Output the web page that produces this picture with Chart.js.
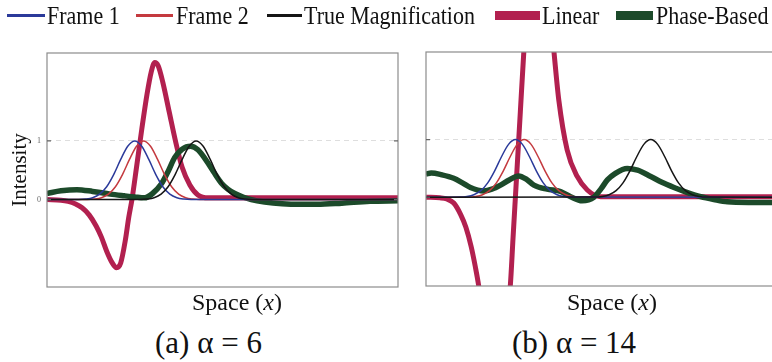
<!DOCTYPE html>
<html>
<head>
<meta charset="utf-8">
<script src="https://cdn.jsdelivr.net/npm/chart.js@4"></script>
<style>
  body { margin: 0; width: 772px; height: 362px; overflow: hidden; background: #fff; position: relative;
         font-family: 'Liberation Serif', 'Times New Roman', serif; color: #111; }
  canvas { position: absolute; top: 0; }
  .ln { position: absolute; top: 14px; height: 3px; }
  .bx { position: absolute; top: 11px; height: 9px; }
  .tx { position: absolute; top: 6px; font-size: 22px; line-height: 22px; white-space: nowrap;
        transform: scaleY(1.12); transform-origin: left bottom; }
  .xt { position: absolute; top: 290px; font-size: 24px; line-height: 24px; white-space: nowrap; }
  .cap { position: absolute; top: 327px; font-size: 31px; line-height: 31px; white-space: nowrap; }
</style>
</head>
<body>
<canvas id="panelA" width="400" height="300" style="left:0"></canvas>
<canvas id="panelB" width="378" height="290" style="left:400px"></canvas>

<div id="legend">
  <span class="ln" style="left:7px;width:38px;background:#2b3a9a"></span><span class="tx" style="left:47px">Frame 1</span>
  <span class="ln" style="left:136px;width:37px;background:#c43a3f"></span><span class="tx" style="left:176px">Frame 2</span>
  <span class="ln" style="left:267px;width:35px;background:#151515"></span><span class="tx" style="left:304px">True Magnification</span>
  <span class="bx" style="left:495px;width:45px;background:#b2204f"></span><span class="tx" style="left:542px">Linear</span>
  <span class="bx" style="left:616px;width:37px;background:#1c4a2a"></span><span class="tx" style="left:656px">Phase-Based</span>
</div>
<div class="xt" style="left:192px">Space (<i>x</i>)</div>
<div class="xt" style="left:567px">Space (<i>x</i>)</div>
<div class="cap" style="left:155px">(a) α = 6</div>
<div class="cap" style="left:512px">(b) α = 14</div>

<script>
const BLUE = '#2b3a9a';
const RED = '#c43a3f';
const BLACK = '#151515';
const CRIMSON = '#b2204f';
const GREEN = '#1c4a2a';
const FONT = "'Liberation Serif', 'Times New Roman', serif";

// panel (a), alpha = 6
const pulseAY = [0, 0.002, 0.01, 0.033, 0.094, 0.22, 0.427, 0.685, 0.91, 1, 0.91, 0.685, 0.427, 0.22, 0.094, 0.033, 0.01, 0.002, 0];
const frame1AX = [0, 9, 11, 13, 15, 17, 19, 21, 23, 25, 27, 29, 31, 33, 35, 37, 39, 41, 100];
const frame2AX = [0, 11.5, 13.5, 15.5, 17.5, 19.5, 21.5, 23.5, 25.5, 27.5, 29.5, 31.5, 33.5, 35.5, 37.5, 39.5, 41.5, 43.5, 100];
const trueAX = [0, 26.5, 28.5, 30.5, 32.5, 34.5, 36.5, 38.5, 40.5, 42.5, 44.5, 46.5, 48.5, 50.5, 52.5, 54.5, 56.5, 58.5, 100];
const linearAX = [0, 4, 6, 8, 10, 12, 14, 15.5, 17, 18.5, 19.8, 21, 22.3, 23.3, 24.2, 25.5, 27, 28.5, 29.7, 30.7, 31.7, 33, 34.8, 36.6, 38.5, 40.7, 43, 46, 100];
const linearAY = [0, -0.01, -0.03, -0.07, -0.14, -0.26, -0.45, -0.64, -0.88, -1.07, -1.16, -1.08, -0.7, -0.3, 0, 0.55, 1.2, 1.8, 2.18, 2.34, 2.28, 2.0, 1.5, 1.0, 0.55, 0.25, 0.08, 0.03, 0.03];
const phaseAX = [0, 4, 8.5, 13, 18, 22, 25, 27.8, 30, 32.6, 34.5, 36.4, 38.5, 40.9, 43, 45.9, 47.5, 49.7, 51.5, 53.5, 56, 58.2, 62, 67, 72, 77, 84, 92, 100];
const phaseAY = [0.105, 0.15, 0.17, 0.14, 0.094, 0.065, 0.045, 0.03, 0.1, 0.27, 0.48, 0.72, 0.86, 0.91, 0.85, 0.62, 0.47, 0.28, 0.18, 0.105, 0.04, 0.0, -0.04, -0.07, -0.08, -0.08, -0.06, -0.03, -0.02];

// panel (b), alpha = 14
const pulseBY = [0, 0.004, 0.014, 0.044, 0.114, 0.249, 0.458, 0.707, 0.917, 1, 0.917, 0.707, 0.458, 0.249, 0.114, 0.044, 0.014, 0.004, 0];
const frame1BX = [0, 9.8, 11.8, 13.8, 15.8, 17.8, 19.8, 21.8, 23.8, 25.8, 27.8, 29.8, 31.8, 33.8, 35.8, 37.8, 39.8, 41.8, 102];
const frame2BX = [0, 12.3, 14.3, 16.3, 18.3, 20.3, 22.3, 24.3, 26.3, 28.3, 30.3, 32.3, 34.3, 36.3, 38.3, 40.3, 42.3, 44.3, 102];
const trueBX = [0, 48.8, 50.8, 52.8, 54.8, 56.8, 58.8, 60.8, 62.8, 64.8, 66.8, 68.8, 70.8, 72.8, 74.8, 76.8, 78.8, 80.8, 102];
const linearBX = [0, 4, 6, 8, 10, 11.5, 13, 14.2, 15.2, 17, 19.5, 22, 24.3, 25.1, 25.9, 27.2, 28.2, 30, 32, 34, 36, 36.9, 38.3, 40.7, 43.6, 46.5, 50.3, 55, 102];
const linearBY = [0, -0.01, -0.03, -0.1, -0.3, -0.52, -0.85, -1.2, -1.54, -2.4, -3.0, -2.6, -1.54, -0.7, 0.13, 1.48, 2.52, 3.9, 4.5, 4.2, 3.1, 2.52, 1.68, 0.82, 0.36, 0.125, 0.01, 0.01, 0.01];
const phaseBX = [0, 1.5, 4.5, 8, 10.5, 12.8, 16.6, 19, 21.5, 24, 26.7, 29, 31.1, 34.9, 38.8, 41.7, 45, 48.4, 50.5, 52.3, 54.5, 58, 61, 64.8, 68, 71.5, 75, 79.2, 83, 86.9, 93, 102];
const phaseBY = [0.40, 0.42, 0.39, 0.33, 0.25, 0.17, 0.11, 0.14, 0.21, 0.3, 0.37, 0.31, 0.21, 0.14, 0.10, 0.01, -0.06, 0.0, 0.15, 0.30, 0.41, 0.50, 0.47, 0.36, 0.26, 0.17, 0.09, 0.01, -0.04, -0.08, -0.09, -0.09];

const points = (xs, ys) => xs.map((x, i) => ({ x: x, y: ys[i] }));

const curve = (label, xs, ys, color, width, order) => ({
    label: label,
    data: points(xs, ys),
    borderColor: color,
    borderWidth: width,
    pointRadius: 0,
    cubicInterpolationMode: 'monotone',
    clip: 0,
    order: order,
});

// frame box with short inward ticks at 0 and 1
const boxPlugin = {
    id: 'box',
    afterDatasetsDraw(chart) {
        const { ctx, chartArea: a } = chart;
        const y = chart.scales.y;
        ctx.save();
        ctx.strokeStyle = '#8c8c8c';
        ctx.lineWidth = 1.2;
        ctx.strokeRect(a.left, a.top, a.right - a.left, a.bottom - a.top);
        ctx.strokeStyle = '#666';
        [0, 1].forEach((v) => {
            const py = y.getPixelForValue(v);
            ctx.beginPath();
            ctx.moveTo(a.left, py); ctx.lineTo(a.left + 4, py);
            ctx.moveTo(a.right, py); ctx.lineTo(a.right - 4, py);
            ctx.stroke();
        });
        ctx.restore();
    }
};

function makePanel(id, datasets, opts) {
    new Chart(document.getElementById(id), {
        type: 'line',
        data: { datasets: datasets },
        plugins: [boxPlugin],
        options: {
            responsive: false,
            animation: false,
            layout: { padding: opts.padding },
            plugins: { legend: { display: false }, tooltip: { enabled: false } },
            scales: {
                x: { type: 'linear', display: false, min: 0, max: opts.xMax },
                y: {
                    min: opts.yMin,
                    max: opts.yMax,
                    afterBuildTicks: (axis) => { axis.ticks = [{ value: 0 }, { value: 1 }]; },
                    afterFit: (axis) => { axis.width = opts.axisWidth; },
                    ticks: {
                        display: opts.showLabels,
                        font: { family: FONT, size: 8 },
                        color: '#666',
                        padding: 6,
                    },
                    grid: {
                        drawTicks: false,
                        color: (c) => c.tick && c.tick.value === 1 ? 'rgba(0,0,0,0.13)' : 'rgba(0,0,0,0)',
                    },
                    border: { display: false, dash: [5, 4] },
                    title: {
                        display: opts.showLabels,
                        text: 'Intensity',
                        font: { family: FONT, size: 21 },
                        color: '#111',
                        padding: { top: 8, bottom: 0 },
                    },
                },
            },
        },
    });
}

makePanel('panelA', [
    curve('True Magnification', trueAX, pulseAY, BLACK, 1.5, 0),
    curve('Frame 1', frame1AX, pulseAY, BLUE, 1.5, 1),
    curve('Frame 2', frame2AX, pulseAY, RED, 1.5, 2),
    curve('Phase-Based', phaseAX, phaseAY, GREEN, 5.5, 3),
    curve('Linear', linearAX, linearAY, CRIMSON, 5, 4),
], { padding: { top: 53, right: 2, bottom: 13, left: 0 }, xMax: 100, yMin: -1.49, yMax: 2.5, axisWidth: 47, showLabels: true });

makePanel('panelB', [
    curve('True Magnification', trueBX, pulseBY, BLACK, 1.5, 0),
    curve('Frame 1', frame1BX, pulseBY, BLUE, 1.5, 1),
    curve('Frame 2', frame2BX, pulseBY, RED, 1.5, 2),
    curve('Phase-Based', phaseBX, phaseBY, GREEN, 5.5, 3),
    curve('Linear', linearBX, linearBY, CRIMSON, 5, 4),
], { padding: { top: 52, right: 1, bottom: 4, left: 0 }, xMax: 101.2, yMin: -1.54, yMax: 2.52, axisWidth: 26, showLabels: false });
</script>
</body>
</html>
